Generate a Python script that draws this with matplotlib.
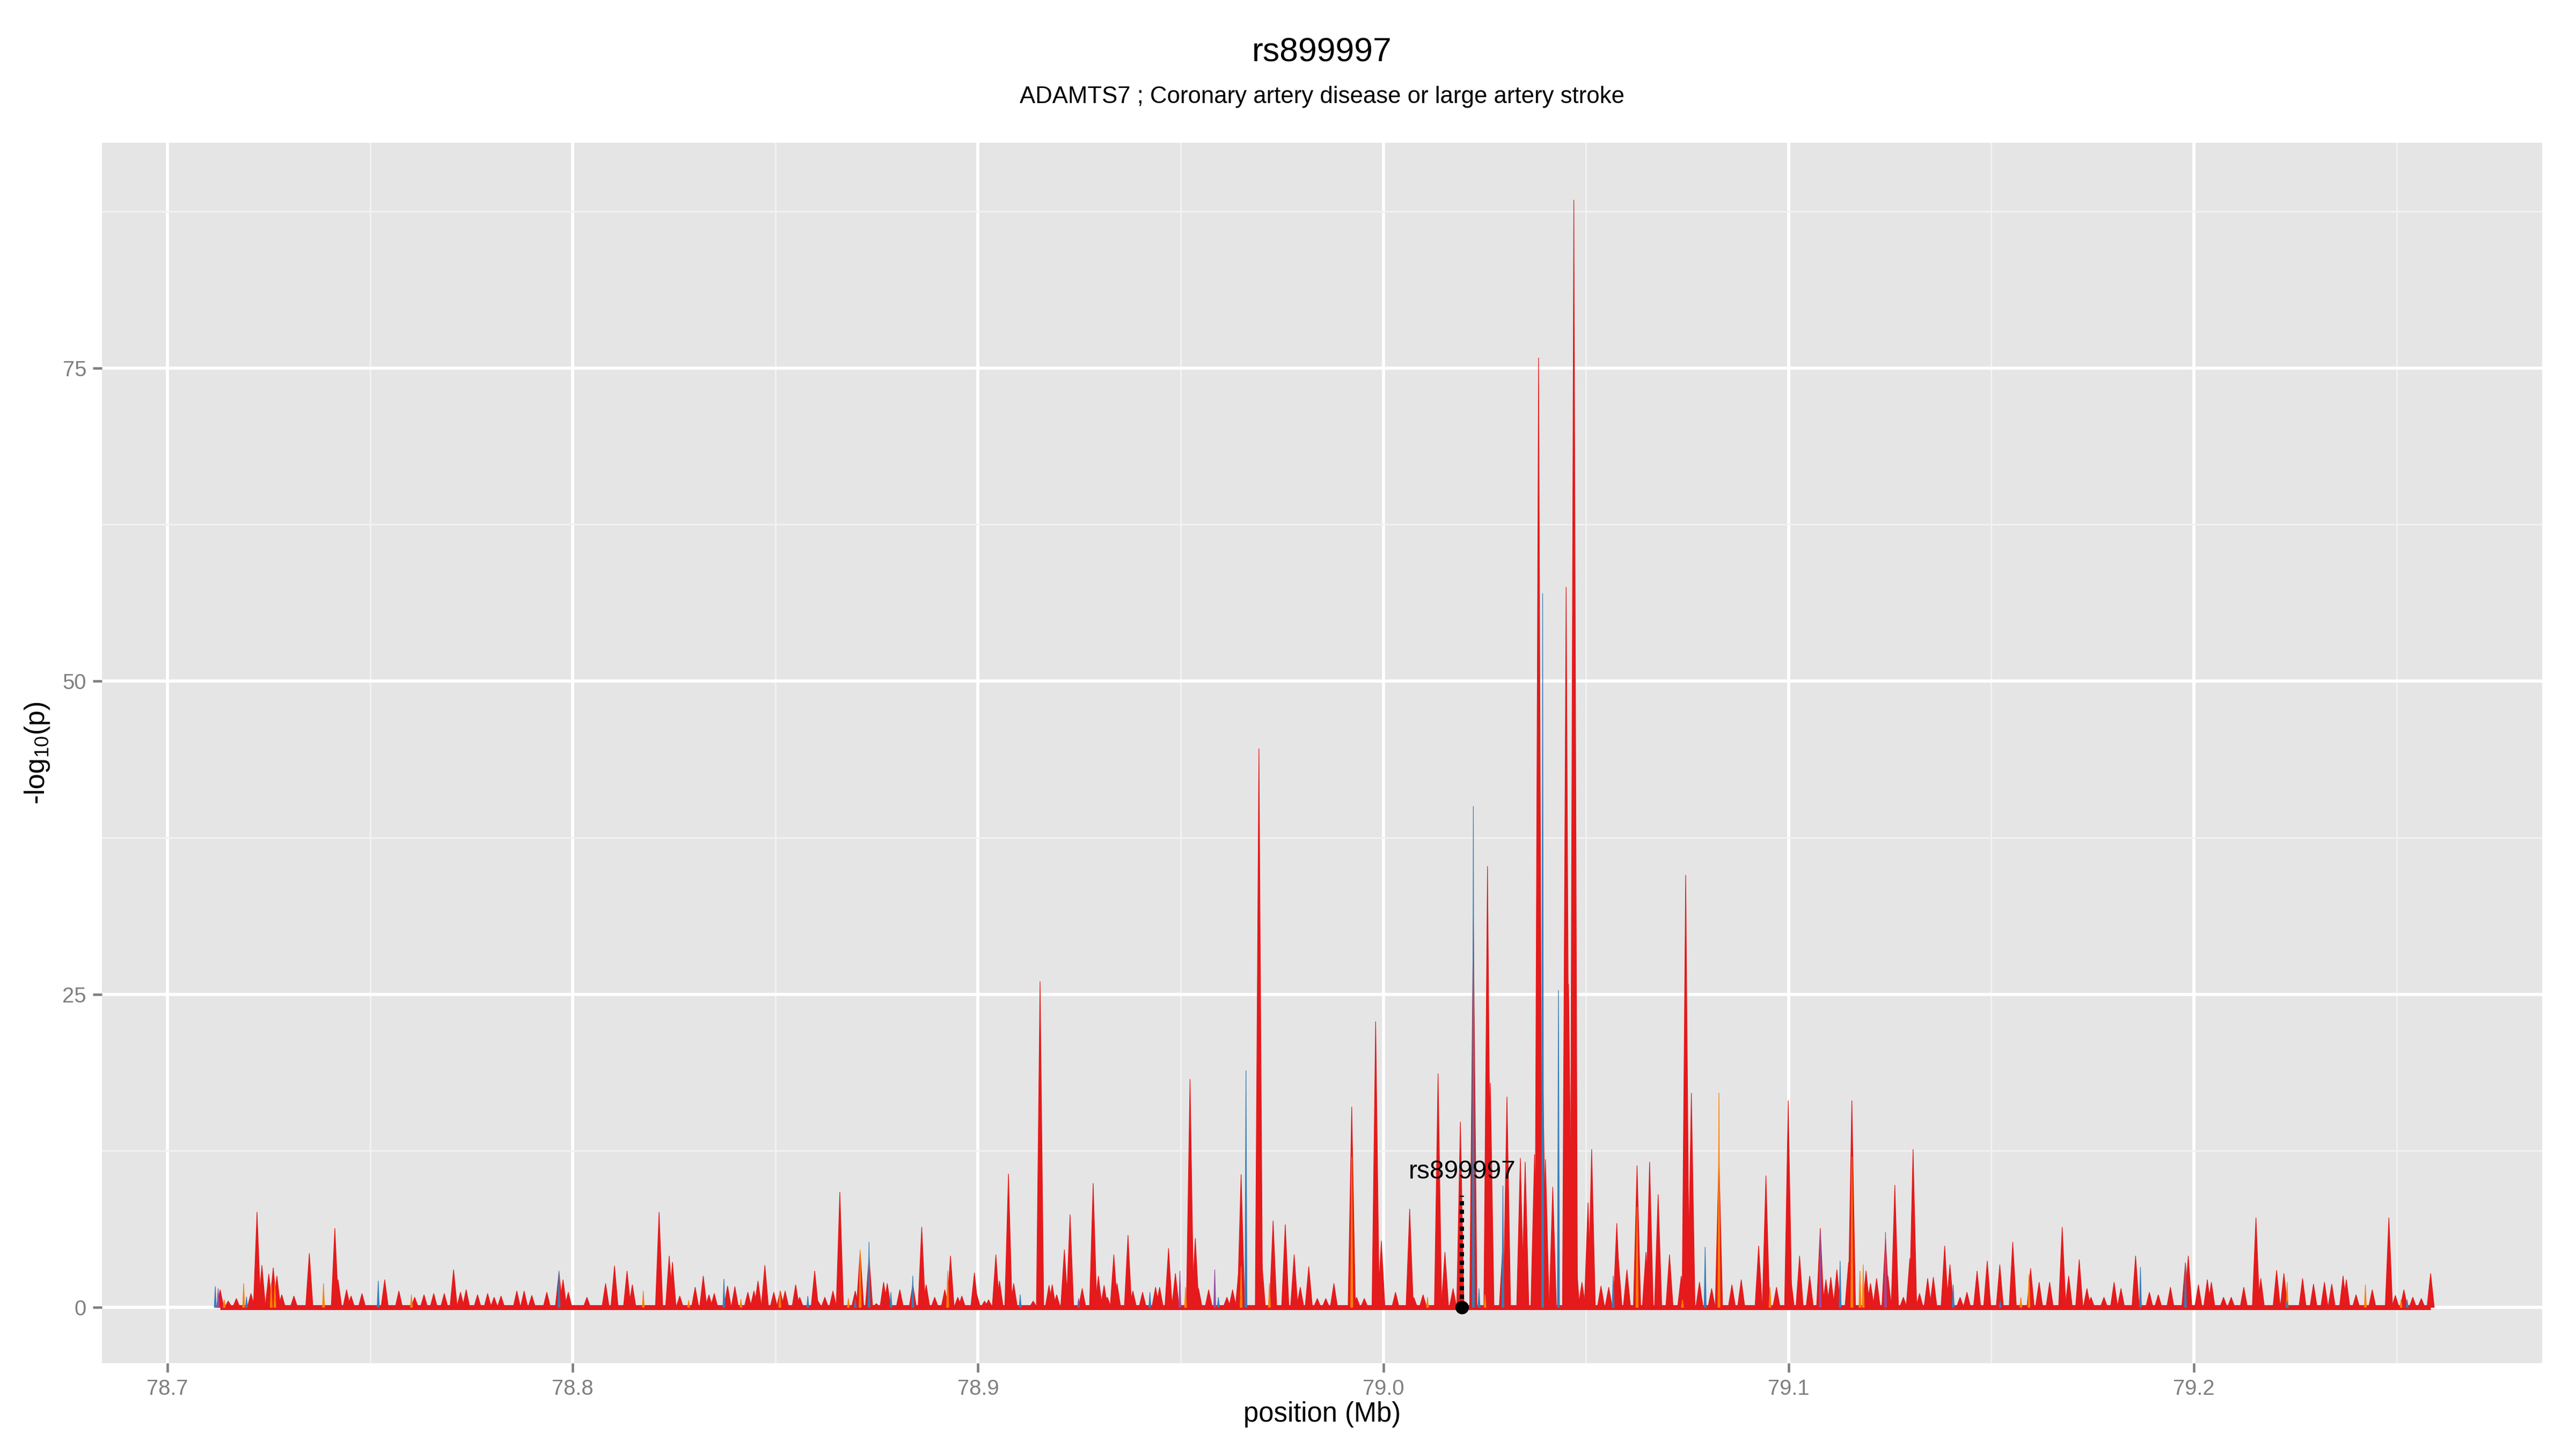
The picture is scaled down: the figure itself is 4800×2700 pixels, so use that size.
import numpy as np
import matplotlib
matplotlib.use('Agg')
import matplotlib.pyplot as plt
from matplotlib.collections import PolyCollection

plt.rcParams['font.family'] = ['Liberation Sans', 'DejaVu Sans']
plt.rcParams['mathtext.default'] = 'regular'

# ---- data: SNP position (Mb) and -log10(p) ----
red_pos = [
    78.7130, 78.7150, 78.7170, 78.7206, 78.7221, 78.7233, 78.7250, 78.7261, 78.7270, 78.7282,
    78.7312, 78.7350, 78.7413, 78.7421, 78.7442, 78.7453, 78.7480, 78.7536, 78.7571, 78.7610,
    78.7633, 78.7657, 78.7683, 78.7706, 78.7723, 78.7737, 78.7765, 78.7790, 78.7806, 78.7823,
    78.7862, 78.7880, 78.7899, 78.7936, 78.7966, 78.7976, 78.7989, 78.8035, 78.8081, 78.8103,
    78.8134, 78.8147, 78.8213, 78.8238, 78.8246, 78.8264, 78.8302, 78.8322, 78.8336, 78.8349,
    78.8382, 78.8400, 78.8432, 78.8447, 78.8457, 78.8474, 78.8496, 78.8512, 78.8524, 78.8550,
    78.8560, 78.8597, 78.8605, 78.8622, 78.8642, 78.8659, 78.8697, 78.8709, 78.8731, 78.8749,
    78.8767, 78.8776, 78.8807, 78.8839, 78.8861, 78.8872, 78.8893, 78.8918, 78.8932, 78.8950,
    78.8960, 78.8991, 78.8997, 78.9016, 78.9026, 78.9044, 78.9053, 78.9075, 78.9088, 78.9136,
    78.9153, 78.9175, 78.9183, 78.9194, 78.9213, 78.9227, 78.9257, 78.9284, 78.9297, 78.9311,
    78.9319, 78.9335, 78.9343, 78.9370, 78.9382, 78.9406, 78.9438, 78.9448, 78.9470, 78.9487,
    78.9523, 78.9536, 78.9544, 78.9569, 78.9614, 78.9628, 78.9644, 78.9649, 78.9693, 78.9700,
    78.9728, 78.9758, 78.9780, 78.9795, 78.9816, 78.9837, 78.9858, 78.9878, 78.9922, 78.9934,
    78.9953, 78.9981, 78.9995, 79.0030, 79.0065, 79.0075, 79.0098, 79.0135, 79.0152, 79.0172,
    79.0190, 79.0222, 79.0257, 79.0264, 79.0295, 79.0305, 79.0338, 79.0342, 79.0350, 79.0373,
    79.0383, 79.0393, 79.0400, 79.0418, 79.0451, 79.0457, 79.0470, 79.0475, 79.0490, 79.0505,
    79.0514, 79.0537, 79.0556, 79.0576, 79.0580, 79.0601, 79.0626, 79.0648, 79.0657, 79.0678,
    79.0706, 79.0735, 79.0746, 79.0760, 79.0780, 79.0810, 79.0828, 79.0860, 79.0883, 79.0926,
    79.0944, 79.0970, 79.0999, 79.1005, 79.1027, 79.1052, 79.1078, 79.1092, 79.1104, 79.1119,
    79.1148, 79.1156, 79.1191, 79.1202, 79.1217, 79.1239, 79.1245, 79.1262, 79.1283, 79.1299,
    79.1307, 79.1323, 79.1343, 79.1357, 79.1385, 79.1398, 79.1423, 79.1440, 79.1465, 79.1490,
    79.1521, 79.1553, 79.1597, 79.1618, 79.1644, 79.1675, 79.1691, 79.1717, 79.1736, 79.1746,
    79.1778, 79.1803, 79.1820, 79.1856, 79.1890, 79.1912, 79.1942, 79.1979, 79.1986, 79.2011,
    79.2033, 79.2043, 79.2073, 79.2092, 79.2123, 79.2153, 79.2165, 79.2204, 79.2222, 79.2268,
    79.2295, 79.2322, 79.2340, 79.2368, 79.2376, 79.2400, 79.2440, 79.2481, 79.2497, 79.2518,
    79.2540, 79.2561, 79.2584,
]
red_logp = [
    1.4, 0.5, 0.7, 1.1, 7.6, 3.35, 2.65, 3.15, 2.5, 1.0,
    0.9, 4.3, 6.3, 2.2, 1.4, 0.9, 1.1, 2.2, 1.3, 0.8,
    1.0, 1.1, 1.1, 3.0, 1.2, 1.4, 1.0, 1.1, 0.8, 0.9,
    1.3, 1.3, 0.95, 1.2, 2.8, 2.2, 1.2, 0.8, 1.9, 3.3,
    2.9, 1.8, 7.6, 4.1, 3.6, 0.9, 1.6, 2.5, 1.0, 1.1,
    1.7, 1.65, 1.2, 1.3, 2.1, 3.35, 1.2, 1.3, 1.3, 1.8,
    0.8, 2.9, 0.5, 0.8, 1.3, 9.2, 1.3, 4.4, 4.0, 0.3,
    2.0, 1.9, 1.4, 1.8, 6.4, 1.8, 0.8, 1.4, 4.1, 0.8,
    0.9, 2.75, 1.0, 0.5, 0.6, 4.2, 2.1, 10.65, 1.9, 0.5,
    26.0, 1.75, 1.8, 1.0, 4.6, 7.4, 1.5, 9.9, 2.5, 1.75,
    0.8, 4.2, 1.9, 5.75, 1.3, 1.2, 1.6, 1.6, 4.7, 2.7,
    18.2, 5.5, 1.5, 1.4, 0.8, 1.4, 3.25, 10.6, 44.6, 3.7,
    6.9, 6.6, 4.2, 1.6, 3.25, 0.7, 0.7, 1.9, 16.0, 0.8,
    0.7, 22.8, 5.3, 1.2, 7.85, 0.8, 1.0, 18.65, 4.4, 1.5,
    14.8, 31.0, 35.2, 17.9, 5.0, 16.8, 11.9, 5.3, 11.6, 12.2,
    75.8, 20.0, 11.8, 9.6, 57.5, 25.8, 88.4, 4.1, 2.0, 8.35,
    12.6, 1.7, 1.6, 6.7, 3.8, 3.0, 11.3, 4.4, 11.6, 9.0,
    4.2, 2.5, 34.5, 17.1, 2.0, 1.5, 12.0, 1.8, 2.2, 4.9,
    10.5, 1.6, 16.5, 2.4, 4.1, 2.5, 6.3, 2.2, 2.4, 3.0,
    3.6, 16.5, 2.9, 1.9, 2.3, 5.5, 2.5, 9.75, 0.8, 3.9,
    12.6, 1.1, 2.3, 2.4, 4.9, 3.4, 0.8, 1.2, 2.9, 3.7,
    3.4, 5.2, 3.1, 2.0, 2.0, 6.4, 2.5, 3.8, 1.5, 0.8,
    0.8, 2.0, 1.5, 4.1, 1.2, 1.0, 1.6, 3.55, 4.1, 1.8,
    2.2, 2.0, 0.8, 0.8, 1.6, 7.15, 2.3, 2.95, 2.7, 2.3,
    1.85, 2.0, 1.85, 2.5, 2.2, 1.0, 1.4, 7.15, 0.95, 1.4,
    0.8, 0.7, 2.7,
]

blue_pos = [78.7118, 78.7195, 78.7520, 78.7966, 78.8373, 78.8580, 78.8697, 78.8731, 78.8785,
            78.8839, 78.9104, 78.9424, 78.9593, 78.9661, 79.0222, 79.0236, 79.0295, 79.0393,
            79.0432, 79.0567, 79.0794, 79.1127, 79.1406, 79.1522, 79.1868, 79.1979, 79.2230,
            79.2526]
blue_logp = [1.66, 0.83, 2.1, 2.9, 2.25, 0.9, 0.6, 5.2, 1.2,
             2.5, 1.0, 1.2, 0.8, 18.9, 40.0, 1.5, 9.7, 57.0,
             25.3, 2.5, 4.8, 3.7, 1.8, 0.5, 3.2, 3.5, 0.5,
             0.6]

orange_pos = [78.7140, 78.7188, 78.7256, 78.7265, 78.7385, 78.7602, 78.8174, 78.8286, 78.8415,
              78.8511, 78.8680, 78.8709, 78.8925, 78.9512, 78.9649, 78.9719, 78.9922, 79.0109,
              79.0251, 79.0626, 79.0738, 79.0828, 79.0954, 79.1156, 79.1176, 79.1184, 79.1573,
              79.1593, 79.2230, 79.2423, 79.2511]
orange_logp = [0.6, 1.9, 1.9, 1.9, 1.9, 1.0, 1.3, 0.55, 0.65,
               1.3, 0.7, 4.6, 2.9, 1.6, 3.25, 1.9, 12.0, 0.8,
               1.0, 8.0, 0.6, 17.1, 1.6, 12.0, 2.9, 3.4, 0.8,
               2.6, 2.0, 1.8, 0.6]

purple_pos = [78.7125, 78.9248, 78.9498, 78.9584, 79.1078, 79.1239]
purple_logp = [1.5, 0.7, 2.9, 3.0, 6.0, 6.0]

snp_name = 'rs899997'
snp_pos = 79.0194
snp_label_y = 10.8
snp_line_top = 8.9

COL = {'red': '#E41A1C', 'blue': '#377EB8', 'orange': '#FF7F00', 'purple': '#984EA3'}


def spikes(ax, pos, logp, half, color, z):
    verts = [[(p - half, 0), (p, h), (p + half, 0)] for p, h in zip(pos, logp)]
    ax.add_collection(PolyCollection(verts, facecolors=color, edgecolors=color,
                                     linewidths=0.3, zorder=z))


fig = plt.figure(figsize=(16, 9), dpi=300)
ax = fig.add_axes([0.0396, 0.0593, 0.9473, 0.8422])
ax.set_facecolor('#E5E5E5')
for s in ax.spines.values():
    s.set_visible(False)

ax.set_xlim(78.68385, 79.28594)
ax.set_ylim(-4.45, 92.98)
ax.set_xticks([78.7, 78.8, 78.9, 79.0, 79.1, 79.2])
ax.set_xticks([78.75, 78.85, 78.95, 79.05, 79.15, 79.25], minor=True)
ax.set_yticks([0, 25, 50, 75])
ax.set_yticks([12.5, 37.5, 62.5, 87.5], minor=True)
ax.set_xticklabels(['78.7', '78.8', '78.9', '79.0', '79.1', '79.2'])
ax.grid(which='major', color='white', linewidth=1.4, zorder=0)
ax.grid(which='minor', color='#F2F2F2', linewidth=0.7, zorder=0)
ax.set_axisbelow(True)
ax.tick_params(which='major', length=4, width=1.1, color='#7F7F7F',
               labelcolor='#7F7F7F', labelsize=9.6, pad=3)
ax.tick_params(which='minor', length=0)

# baseline of the dense low-significance SNPs
ax.hlines(0, min(red_pos), max(red_pos), color=COL['red'], linewidth=2.2, zorder=2)
spikes(ax, red_pos, red_logp, 0.0009, COL['red'], 3)
spikes(ax, orange_pos, orange_logp, 0.00025, COL['orange'], 4)
spikes(ax, blue_pos, blue_logp, 0.00025, COL['blue'], 4)
spikes(ax, purple_pos, purple_logp, 0.00025, COL['purple'], 4)

# index SNP marker
ax.plot([snp_pos, snp_pos], [0, snp_line_top], color='black', linewidth=1.9,
        linestyle=(0, (1.0, 1.0)), zorder=5)
ax.plot([snp_pos], [0], 'o', color='black', markersize=5, zorder=6)
ax.text(snp_pos, snp_label_y, snp_name, ha='center', va='center', fontsize=11.5, zorder=6)

ax.set_xlabel('position (Mb)', fontsize=12.2, labelpad=1)
ax.set_ylabel('-log$_{10}$(p)', fontsize=12.5, labelpad=5)

cx = 0.0396 + 0.9473 / 2
fig.text(cx, 0.9637, 'rs899997', ha='center', va='center', fontsize=15)
fig.text(cx, 0.9333, 'ADAMTS7 ; Coronary artery disease or large artery stroke',
         ha='center', va='center', fontsize=10.5)

fig.savefig('out.png', dpi=300)
